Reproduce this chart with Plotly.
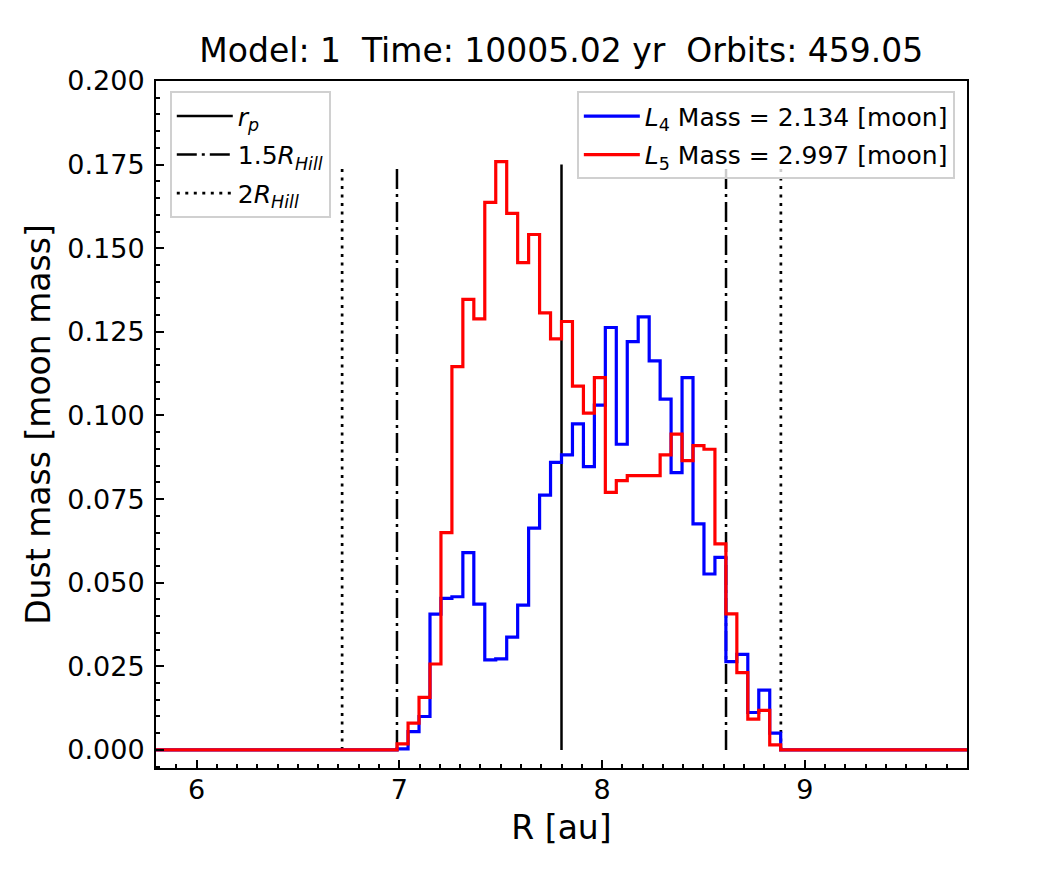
import numpy as np
import plotly.graph_objects as go

# histogram binning: 74 bins over r_p +/- 2 au
r_min, r_max, n_bins = 5.8, 9.8, 74

# planet orbit and Hill radius [au]
r_p = 7.8
r_hill = 0.541
vline_top = 0.175

# dust mass per radial bin [moon mass]
l4_mass = [
    0, 0, 0, 0, 0, 0, 0, 0, 0, 0, 0,
    0, 0, 0, 0, 0, 0, 0, 0, 0, 0, 0,
    0.0003, 0.0055, 0.0100, 0.0406, 0.0453, 0.0458, 0.0590, 0.0436,
    0.0269, 0.0272, 0.0337, 0.0433, 0.0663, 0.0762, 0.0860, 0.0882,
    0.0975, 0.0847, 0.1031, 0.1263, 0.0914, 0.1221, 0.1295, 0.1163,
    0.1049, 0.0829, 0.1113, 0.0676, 0.0526, 0.0576, 0.0264, 0.0286,
    0.0112, 0.0179, 0.0050,
    0, 0, 0, 0, 0, 0, 0, 0, 0,
    0, 0, 0, 0, 0, 0, 0, 0,
]
l5_mass = [
    0, 0, 0, 0, 0, 0, 0, 0, 0, 0, 0,
    0, 0, 0, 0, 0, 0, 0, 0, 0, 0, 0,
    0.0018, 0.0080, 0.0157, 0.0257, 0.0650, 0.1146, 0.1347, 0.1289,
    0.1637, 0.1759, 0.1604, 0.1457, 0.1541, 0.1307, 0.1229, 0.1281,
    0.1088, 0.1007, 0.1113, 0.0770, 0.0805, 0.0820, 0.0820, 0.0820,
    0.0882, 0.0944, 0.0865, 0.0910, 0.0899, 0.0616, 0.0407, 0.0231,
    0.0092, 0.0118, 0.0015,
    0, 0, 0, 0, 0, 0, 0, 0, 0,
    0, 0, 0, 0, 0, 0, 0, 0,
]

model, time_yr, orbits = 1, 10005.02, 459.05
l4_total, l5_total = 2.134, 2.997

edges = np.linspace(r_min, r_max, n_bins + 1)

fig = go.Figure()


def vpair(x_list):
    # vertical segments from 0 to vline_top, broken with None
    xs, ys = [], []
    for x in x_list:
        xs += [x, x, None]
        ys += [0, vline_top, None]
    return xs, ys


# reference lines (left legend)
xs, ys = vpair([r_p])
fig.add_trace(go.Scatter(x=xs, y=ys, mode="lines", name="<i>r</i><sub><i>p</i></sub>",
                         line=dict(color="black", width=2.5),
                         legend="legend", legendgroup="rp"))
xs, ys = vpair([r_p - 1.5 * r_hill, r_p + 1.5 * r_hill])
fig.add_trace(go.Scatter(x=xs, y=ys, mode="lines", name="1.5<i>R</i><sub><i>Hill</i></sub>",
                         line=dict(color="black", width=2.5, dash="20px,5px,3px,5px"),
                         legend="legend", legendgroup="h15"))
xs, ys = vpair([r_p - 2 * r_hill, r_p + 2 * r_hill])
fig.add_trace(go.Scatter(x=xs, y=ys, mode="lines", name="2<i>R</i><sub><i>Hill</i></sub>",
                         line=dict(color="black", width=2.7, dash="3px,5.5px"),
                         legend="legend", legendgroup="h2"))

# step histograms (right legend)
fig.add_trace(go.Scatter(x=edges, y=l4_mass + [l4_mass[-1]], mode="lines", line_shape="hv",
                         name="<i>L</i><sub>4</sub> Mass = %.3f [moon]" % l4_total,
                         line=dict(color="#0000ff", width=3.2),
                         legend="legend2", legendgroup="l4"))
fig.add_trace(go.Scatter(x=edges, y=l5_mass + [l5_mass[-1]], mode="lines", line_shape="hv",
                         name="<i>L</i><sub>5</sub> Mass = %.3f [moon]" % l5_total,
                         line=dict(color="#ff0000", width=3.2),
                         legend="legend2", legendgroup="l5"))

font = "DejaVu Sans"
axis_common = dict(
    showline=True, linecolor="black", linewidth=2, mirror=True,
    ticks="inside", ticklen=8, tickwidth=2, tickcolor="black",
    showgrid=False, zeroline=False,
    tickfont=dict(family=font, size=27, color="black"),
)

fig.update_xaxes(
    range=[r_min, r_max], dtick=1, tick0=0,
    minor=dict(ticks="inside", ticklen=4, tickwidth=1.5, dtick=0.1, tickcolor="black"),
    title=dict(text="R [au]", font=dict(family=font, size=33, color="black"), standoff=11),
    ticklabelstandoff=-3,
    **axis_common,
)
fig.update_yaxes(
    range=[-0.0054, 0.2], dtick=0.025, tick0=0, tickformat=".3f",
    minor=dict(ticks="inside", ticklen=4, tickwidth=1.5, dtick=0.005, tickcolor="black"),
    title=dict(text="Dust mass [moon mass]", font=dict(family=font, size=33, color="black"),
               standoff=7),
    ticklabelstandoff=4,
    **axis_common,
)

legend_common = dict(
    bgcolor="rgba(255,255,255,0.8)", bordercolor="#d0d0d0", borderwidth=2,
    font=dict(family=font, size=25, color="black"), yanchor="top", y=0.985,
    tracegroupgap=3, itemwidth=56,
)

fig.update_layout(
    width=1040, height=880,
    margin=dict(l=148, r=81, t=73, b=120),
    plot_bgcolor="white", paper_bgcolor="white",
    title=dict(text="Model: %d  Time: %.2f yr  Orbits: %.2f" % (model, time_yr, orbits),
               x=0.532, xanchor="center", y=0.952, yanchor="middle",
               font=dict(family=font, size=33, color="black")),
    legend=dict(x=0.017, xanchor="left", **legend_common),
    legend2=dict(x=0.985, xanchor="right", **legend_common),
)

fig.write_html("out.html")
